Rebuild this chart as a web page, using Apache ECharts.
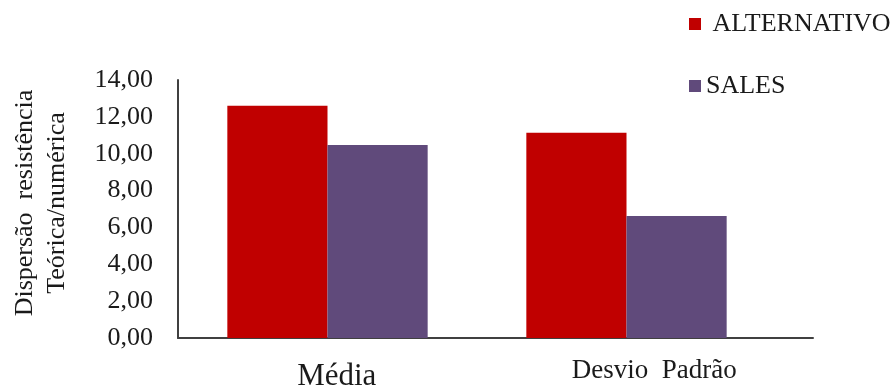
<!DOCTYPE html>
<html>
<head>
<meta charset="utf-8">
<script src="https://cdn.jsdelivr.net/npm/echarts@6/dist/echarts.min.js"></script>
<style>
  html, body { margin: 0; padding: 0; background: #ffffff; }
  #chart { width: 895px; height: 392px; }
</style>
</head>
<body>
<div id="chart"></div>
<script>
// Categories, series and axis ticks
var categories = ['Média', 'Desvio  Padrão'];
var seriesNames = ['ALTERNATIVO', 'SALES'];
var alternativoValues = [12.60, 11.14];
var salesValues = [10.47, 6.62];
var yTickValues = [0, 2, 4, 6, 8, 10, 12, 14];
var yTickLabels = ['0,00', '2,00', '4,00', '6,00', '8,00', '10,00', '12,00', '14,00'];
var yAxisTitle = ['Dispersão  resistência', 'Teórica/numérica'];

var FONT = '"Liberation Serif", "Times New Roman", serif';
var TEXT = '#1a1a1a';
var AXIS = '#404040';

var chart = echarts.init(document.getElementById('chart'), null, { renderer: 'canvas' });

chart.setOption({
  animation: false,
  backgroundColor: '#ffffff',
  textStyle: { fontFamily: FONT, color: TEXT },
  legend: {
    orient: 'vertical',
    left: 684,
    top: 6,
    itemWidth: 12,
    itemHeight: 12,
    itemGap: 36,
    itemTextGap: 7,
    icon: 'rect',
    data: seriesNames,
    formatter: function (name) { return name === 'ALTERNATIVO' ? ' ' + name : name; },
    textStyle: { fontFamily: FONT, fontSize: 26, color: TEXT }
  },
  grid: [
    // wide grid: axis line and category labels
    { left: 178, right: 82, top: 80, bottom: 54, containLabel: false, outerBoundsMode: 'none' },
    // bar grid
    { left: 178, right: 119, top: 80, bottom: 54, containLabel: false, outerBoundsMode: 'none' }
  ],
  xAxis: [
    {
      type: 'category',
      gridIndex: 0,
      data: categories,
      axisLine: { show: true, lineStyle: { color: AXIS, width: 2 } },
      axisTick: { show: false },
      axisLabel: {
        margin: 19,
        formatter: function (v) { return v === 'Média' ? '{a|' + v + '}' : '{b|' + v + '}'; },
        rich: {
          a: { fontFamily: FONT, fontSize: 31, color: TEXT, padding: [4, 0, 0, 0] },
          b: { fontFamily: FONT, fontSize: 27, color: TEXT }
        }
      }
    },
    {
      type: 'category',
      gridIndex: 1,
      data: categories,
      show: false
    }
  ],
  yAxis: [
    {
      type: 'value',
      gridIndex: 0,
      min: 0,
      max: 14,
      interval: 2,
      name: yAxisTitle.join('\n'),
      nameLocation: 'middle',
      nameRotate: 90,
      nameGap: 105,
      nameTextStyle: { fontFamily: FONT, fontSize: 26, color: TEXT, lineHeight: 32, padding: [0, 0, 0, 12] },
      axisLine: { show: true, lineStyle: { color: AXIS, width: 2 } },
      axisTick: { show: false },
      splitLine: { show: false },
      axisLabel: {
        margin: 25,
        fontFamily: FONT,
        fontSize: 26,
        color: TEXT,
        formatter: function (v) {
          var i = yTickValues.indexOf(v);
          return i >= 0 ? yTickLabels[i] : '';
        }
      }
    },
    {
      type: 'value',
      gridIndex: 1,
      min: 0,
      max: 14,
      interval: 2,
      show: false
    }
  ],
  series: [
    {
      name: seriesNames[0],
      type: 'bar',
      xAxisIndex: 1,
      yAxisIndex: 1,
      data: alternativoValues,
      barGap: '0%',
      barCategoryGap: '33%',
      itemStyle: { color: '#C00000' }
    },
    {
      name: seriesNames[1],
      type: 'bar',
      xAxisIndex: 1,
      yAxisIndex: 1,
      data: salesValues,
      barGap: '0%',
      barCategoryGap: '33%',
      itemStyle: { color: '#604A7B' }
    }
  ]
});
</script>
</body>
</html>
